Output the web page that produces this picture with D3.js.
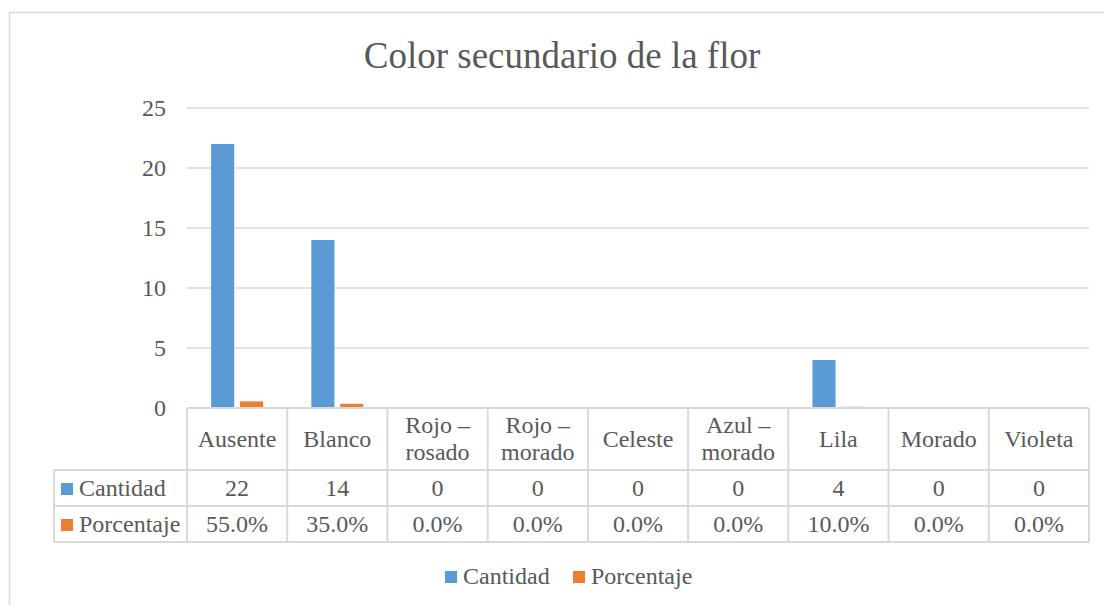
<!DOCTYPE html>
<html>
<head>
<meta charset="utf-8">
<script src="https://d3js.org/d3.v7.min.js"></script>
<style>
  body { margin: 0; background: #fff; }
  svg, svg text { font-family: "Liberation Serif", "Times New Roman", serif; }
  .grid line { stroke: #d9d9d9; stroke-width: 1.5; }
  .tbl line { stroke: #d9d9d9; stroke-width: 2; }
  text { fill: #595959; }
</style>
</head>
<body>
<div id="chart"></div>
<script>
var categories = ["Ausente", "Blanco", "Rojo – rosado", "Rojo – morado", "Celeste", "Azul – morado", "Lila", "Morado", "Violeta"];
var cantidad = [22, 14, 0, 0, 0, 0, 4, 0, 0];
var porcentaje = [0.55, 0.35, 0, 0, 0, 0, 0.10, 0, 0];
var seriesNames = ["Cantidad", "Porcentaje"];
var colors = ["#5b9bd5", "#ed7d31"];
var yTicks = [0, 5, 10, 15, 20, 25];

var W = 1104, H = 605;
var plot = { left: 187, right: 1089, top: 108, bottom: 408 };
var tblLeft = 54, rowH = [408, 470, 506, 542];
var fs = "24px";

var svg = d3.select("#chart").append("svg")
  .attr("width", W).attr("height", H);

// chart frame
svg.append("path")
  .attr("d", "M9.5," + H + " V12.5 H" + W)
  .attr("fill", "none").attr("stroke", "#d9d9d9").attr("stroke-width", 1.5);

svg.append("text")
  .attr("x", 562).attr("y", 68)
  .attr("text-anchor", "middle")
  .style("font-size", "37px")
  .text("Color secundario de la flor");

var x = d3.scaleBand().domain(categories).range([plot.left, plot.right]);
var y = d3.scaleLinear().domain([0, 25]).range([plot.bottom, plot.top]);
var inner = d3.scaleBand().domain(seriesNames).range([-26, 26]).paddingInner(0.2);

// gridlines
svg.append("g").attr("class", "grid")
  .selectAll("line").data(yTicks.filter(d => d > 0)).enter()
  .append("line")
  .attr("x1", plot.left).attr("x2", plot.right)
  .attr("y1", d => y(d)).attr("y2", d => y(d));

// y axis labels
var yAxis = d3.axisLeft(y).tickValues(yTicks).tickSize(0).tickPadding(21);
var ya = svg.append("g").attr("transform", "translate(" + plot.left + ",0)").call(yAxis);
ya.attr("font-family", null).attr("font-size", null);
ya.select(".domain").remove();
ya.selectAll("text").style("font-size", fs).attr("fill", "#595959").attr("dy", "0.3em");

// bars
var seriesData = [cantidad, porcentaje];
seriesData.forEach(function(vals, si) {
  svg.append("g").selectAll("rect").data(vals).enter()
    .append("rect")
    .attr("x", (d, i) => x(categories[i]) + x.bandwidth() / 2 + inner(seriesNames[si]))
    .attr("width", inner.bandwidth())
    .attr("y", d => y(d))
    .attr("height", d => y(0) - y(d))
    .attr("fill", colors[si]);
});

// data table
var tbl = svg.append("g").attr("class", "tbl");
tbl.append("line").attr("x1", plot.left).attr("x2", plot.right).attr("y1", rowH[0]).attr("y2", rowH[0]);
[1, 2, 3].forEach(function(r) {
  tbl.append("line").attr("x1", tblLeft).attr("x2", plot.right).attr("y1", rowH[r]).attr("y2", rowH[r]);
});
tbl.append("line").attr("x1", tblLeft).attr("x2", tblLeft).attr("y1", rowH[1]).attr("y2", rowH[3]);
var colEdges = categories.map(c => x(c)).concat([plot.right]);
colEdges.forEach(function(cx) {
  tbl.append("line").attr("x1", cx).attr("x2", cx).attr("y1", rowH[0]).attr("y2", rowH[3]);
});

// header (category labels)
categories.forEach(function(c) {
  var parts = c.indexOf(" – ") >= 0 ? [c.split(" – ")[0] + " –", c.split(" – ")[1]] : [c];
  var cx = x(c) + x.bandwidth() / 2;
  var t = svg.append("text").attr("text-anchor", "middle").style("font-size", fs);
  if (parts.length === 1) {
    t.append("tspan").attr("x", cx).attr("y", 447).text(parts[0]);
  } else {
    t.append("tspan").attr("x", cx).attr("y", 433).text(parts[0]);
    t.append("tspan").attr("x", cx).attr("y", 460).text(parts[1]);
  }
});

// rows
var fmt = [d => String(d), d => d3.format(".1%")(d)];
seriesData.forEach(function(vals, si) {
  var yMid = (rowH[si + 1] + rowH[si + 2]) / 2 + 8;
  svg.append("rect").attr("x", 61).attr("y", yMid - 13).attr("width", 12).attr("height", 12).attr("fill", colors[si]);
  svg.append("text").attr("x", 79).attr("y", yMid).style("font-size", fs).text(seriesNames[si]);
  svg.append("g").selectAll("text").data(vals).enter()
    .append("text")
    .attr("x", (d, i) => x(categories[i]) + x.bandwidth() / 2)
    .attr("y", yMid)
    .attr("text-anchor", "middle")
    .style("font-size", fs)
    .text(fmt[si]);
});

// legend
var legend = svg.append("g").attr("transform", "translate(445,584)");
var lx = [0, 128];
seriesNames.forEach(function(s, i) {
  legend.append("rect").attr("x", lx[i]).attr("y", -13).attr("width", 12).attr("height", 12).attr("fill", colors[i]);
  legend.append("text").attr("x", lx[i] + 18).attr("y", 0).style("font-size", fs).text(s);
});
</script>
</body>
</html>
